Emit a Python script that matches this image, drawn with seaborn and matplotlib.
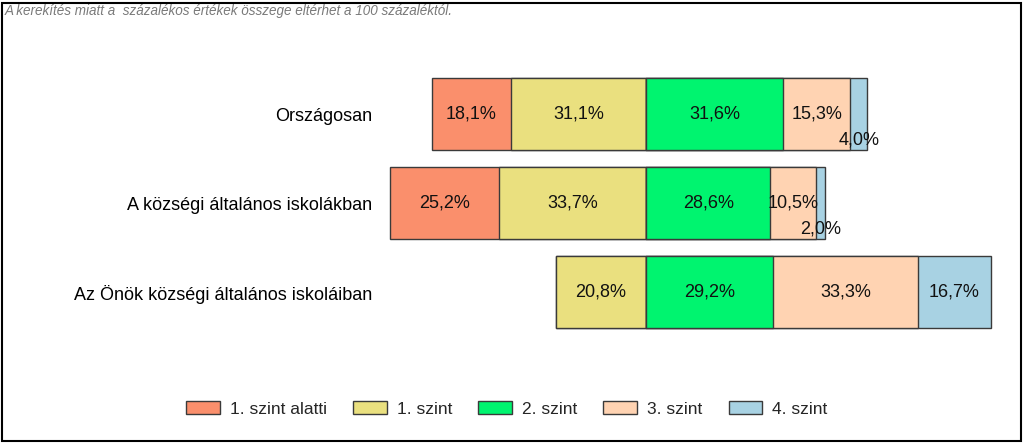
import matplotlib
matplotlib.use("Agg")
import matplotlib.pyplot as plt
import seaborn as sns
import pandas as pd
from matplotlib.patches import Patch, Rectangle

sns.set_theme(style="white")
plt.rcParams['font.family'] = ['Liberation Sans', 'DejaVu Sans']

categories = ["Országosan", "A községi általános iskolákban", "Az Önök községi általános iskoláiban"]
levels = ["1. szint alatti", "1. szint", "2. szint", "3. szint", "4. szint"]
alatti = [18.1, 25.2, 0.0]
szint1 = [31.1, 33.7, 20.8]
szint2 = [31.6, 28.6, 29.2]
szint3 = [15.3, 10.5, 33.3]
szint4 = [4.0, 2.0, 16.7]
colors = ["#FA8F6C", "#EAE07F", "#00F46F", "#FFD3B2", "#A8D2E3"]
note = "A kerekítés miatt a  százalékos értékek összege eltérhet a 100 százaléktól."

W, H = 1024, 443
fig = plt.figure(figsize=(W / 100, H / 100), dpi=100)
zero_px = 646
ppu = 4.35
ax_l, ax_r = 380, 1000
top_px, bot_px = 69.5, 336.5
ax = fig.add_axes([ax_l / W, 1 - bot_px / H, (ax_r - ax_l) / W, (bot_px - top_px) / H])

df = pd.DataFrame({"cat": categories, "alatti": alatti, "s1": szint1,
                   "s2": szint2, "s3": szint3, "s4": szint4})
layers = [
    (-(df.alatti + df.s1), colors[0]),
    (-df.s1, colors[1]),
    (df.s2 + df.s3 + df.s4, colors[4]),
    (df.s2 + df.s3, colors[3]),
    (df.s2, colors[2]),
]
for vals, c in layers:
    sns.barplot(x=vals.values, y=df.cat, orient="h", color=c, edgecolor="#3a3a3a",
                linewidth=1.0, width=0.81, ax=ax, saturation=1)

def fmt(v):
    return f"{v:.1f}%".replace(".", ",")

for i in range(len(categories)):
    segs = [(-(alatti[i] + szint1[i]), alatti[i]), (-szint1[i], szint1[i]),
            (0, szint2[i]), (szint2[i], szint3[i]), (szint2[i] + szint3[i], szint4[i])]
    for start, v in segs:
        if v <= 0:
            continue
        y = i + (0.29 if v < 5 else 0)
        ax.text(start + v / 2, y, fmt(v), ha="center", va="center", fontsize=13, color="#111111")

ax.set_xlim((ax_l - zero_px) / ppu, (ax_r - zero_px) / ppu)
ax.set_ylim(2.5, -0.5)
ax.set_xlabel("")
ax.set_ylabel("")
ax.set_xticks([])
for s in ax.spines.values():
    s.set_visible(False)
ax.tick_params(axis="y", length=0, pad=5.8, labelsize=13, labelcolor="#000000")

handles = [Patch(facecolor=c, edgecolor="#3a3a3a", label=l) for c, l in zip(colors, levels)]
fig.legend(handles=handles, loc="center", bbox_to_anchor=(507 / W, 1 - 409 / H), ncol=5,
           frameon=False, fontsize=12.5, handlelength=1.95, handleheight=0.8,
           handletextpad=0.57, columnspacing=1.5)

fig.text(5 / W, 1 - 11 / H, note, ha="left", va="center", fontsize=9.75, style="italic", color="#7a7a7a")
fig.patches.append(Rectangle((2 / W, 2 / H), (W - 5) / W, (H - 5) / H, transform=fig.transFigure,
                             fill=False, edgecolor="black", linewidth=1.5))
fig.savefig("out.png", dpi=100)
